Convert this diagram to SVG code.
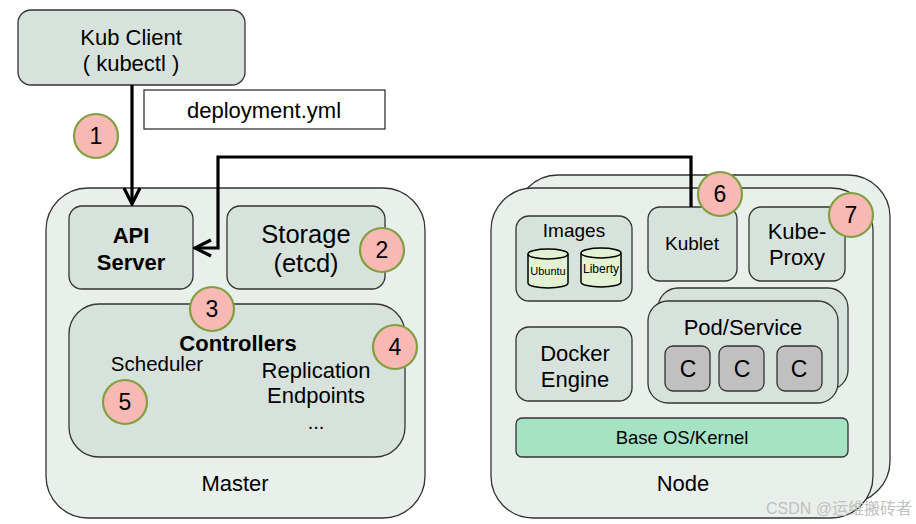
<svg xmlns="http://www.w3.org/2000/svg" width="916" height="524" viewBox="0 0 916 524">
<style>
text{font-family:"Liberation Sans",Arial,sans-serif;fill:#000;text-anchor:middle;}
.outer{fill:#e9f0eb;stroke:#333;stroke-width:1.3;}
.inner{fill:#d8e2dc;stroke:#333;stroke-width:1.3;}
.num{fill:#f8b8b4;stroke:#80a040;stroke-width:2.2;}
.c{fill:#c0c0c0;stroke:#333;stroke-width:1.3;}
.cyl{fill:#e2f2d2;stroke:#000;stroke-width:1.5;}
.conn{fill:none;stroke:#000;stroke-width:3.2;}
.t20{font-size:22px;}
.t16{font-size:19px;}
.nt{font-size:23px;}
</style>
<defs>
<marker id="arr" viewBox="0 0 12 12" refX="11" refY="6" markerWidth="6" markerHeight="6" orient="auto" markerUnits="strokeWidth">
<path d="M1,1 L11,6 L1,11" fill="none" stroke="#000" stroke-width="2"/>
</marker>
</defs>

<g id="kubclient">
<rect class="inner" x="18" y="10" width="227" height="75" rx="13"/>
<text class="t20" x="131" y="45">Kub Client</text>
<text class="t20" x="131" y="71">( kubectl )</text>
</g>

<g id="deployment">
<rect x="144" y="90" width="241" height="39" fill="#fff" stroke="#333" stroke-width="1.3"/>
<text class="t20" x="264" y="118">deployment.yml</text>
</g>

<g id="master">
<rect class="outer" x="46" y="188" width="379" height="330" rx="42"/>
<text class="t20" x="235" y="491">Master</text>
</g>

<g id="apiserver">
<rect class="inner" x="69" y="206" width="124" height="83" rx="13"/>
<text class="t20" x="131" y="243" font-weight="bold">API</text>
<text class="t20" x="131" y="270" font-weight="bold">Server</text>
</g>

<g id="storage">
<rect class="inner" x="227" y="206" width="158" height="83" rx="13"/>
<text x="306" y="243" font-size="25.5">Storage</text>
<text x="306" y="272" font-size="25.5">(etcd)</text>
</g>

<g id="controllers">
<rect class="inner" x="69" y="304" width="336" height="153" rx="30"/>
<text class="t20" x="238" y="351" font-weight="bold">Controllers</text>
<text x="157" y="371" font-size="20.5">Scheduler</text>
<text class="t20" x="316" y="378">Replication</text>
<text class="t20" x="316" y="403">Endpoints</text>
<text x="316" y="429" font-size="20">...</text>
</g>

<g id="node">
<rect class="outer" x="516" y="175" width="374" height="328" rx="42"/>
<rect class="outer" x="491" y="188" width="382" height="330" rx="42"/>
<text class="t20" x="683" y="491">Node</text>
</g>

<g id="images">
<rect class="inner" x="516" y="216" width="116" height="85" rx="13"/>
<text class="t16" x="574" y="237">Images</text>
<path class="cyl" d="M528,254 A20,5 0 0 1 568,254 L568,283 A20,5 0 0 1 528,283 Z"/>
<path d="M528,254 A20,5 0 0 0 568,254" fill="none" stroke="#000" stroke-width="1.5"/>
<text x="548" y="275" font-size="11">Ubuntu</text>
<path class="cyl" d="M581,253 A20,5 0 0 1 621,253 L621,282 A20,5 0 0 1 581,282 Z"/>
<path d="M581,253 A20,5 0 0 0 621,253" fill="none" stroke="#000" stroke-width="1.5"/>
<text x="601" y="273" font-size="12">Liberty</text>
</g>

<g id="kublet">
<rect class="inner" x="648" y="207" width="89" height="74" rx="12"/>
<text class="t16" x="692" y="250">Kublet</text>
</g>

<g id="kubeproxy">
<rect class="inner" x="749" y="207" width="96" height="74" rx="12"/>
<text class="t20" x="797" y="239">Kube-</text>
<text class="t20" x="797" y="265">Proxy</text>
</g>

<g id="docker">
<rect class="inner" x="516" y="327" width="116" height="74" rx="13"/>
<text class="t20" x="575" y="361">Docker</text>
<text class="t20" x="575" y="387">Engine</text>
</g>

<g id="podservice">
<rect class="inner" x="658" y="288" width="190" height="102" rx="20"/>
<rect class="inner" x="648" y="301" width="190" height="102" rx="20"/>
<text class="t20" x="743" y="335">Pod/Service</text>
<rect class="c" x="665" y="346" width="45" height="45" rx="8"/>
<text class="nt" x="688" y="377">C</text>
<rect class="c" x="719" y="346" width="45" height="45" rx="8"/>
<text class="nt" x="742" y="377">C</text>
<rect class="c" x="777" y="346" width="45" height="45" rx="8"/>
<text class="nt" x="799" y="377">C</text>
</g>

<g id="baseos">
<rect x="516" y="418" width="332" height="39" rx="6" fill="#a6e2c4" stroke="#333" stroke-width="1.3"/>
<text x="682" y="444" font-size="18.5">Base OS/Kernel</text>
</g>

<g id="connectors">
<path class="conn" d="M132,85 L132,204" marker-end="url(#arr)"/>
<path class="conn" d="M691,207 L691,157 L218,157 L218,248 L195,248" marker-end="url(#arr)"/>
</g>

<g id="badges">
<circle class="num" cx="96" cy="136" r="22"/>
<text class="nt" x="96" y="144">1</text>
<circle class="num" cx="382" cy="250" r="22"/>
<text class="nt" x="382" y="258">2</text>
<circle class="num" cx="212" cy="309" r="22"/>
<text class="nt" x="212" y="317">3</text>
<circle class="num" cx="395" cy="347" r="22"/>
<text class="nt" x="395" y="355">4</text>
<circle class="num" cx="125" cy="402" r="22"/>
<text class="nt" x="125" y="410">5</text>
<circle class="num" cx="720" cy="194" r="22"/>
<text class="nt" x="720" y="202">6</text>
<circle class="num" cx="851" cy="215" r="22"/>
<text class="nt" x="851" y="223">7</text>
</g>

<text x="912" y="514" font-size="16" style="text-anchor:end;fill:#c0c0c0;font-family:'Liberation Sans','Noto Sans CJK SC',sans-serif">CSDN @运维搬砖者</text>
</svg>
